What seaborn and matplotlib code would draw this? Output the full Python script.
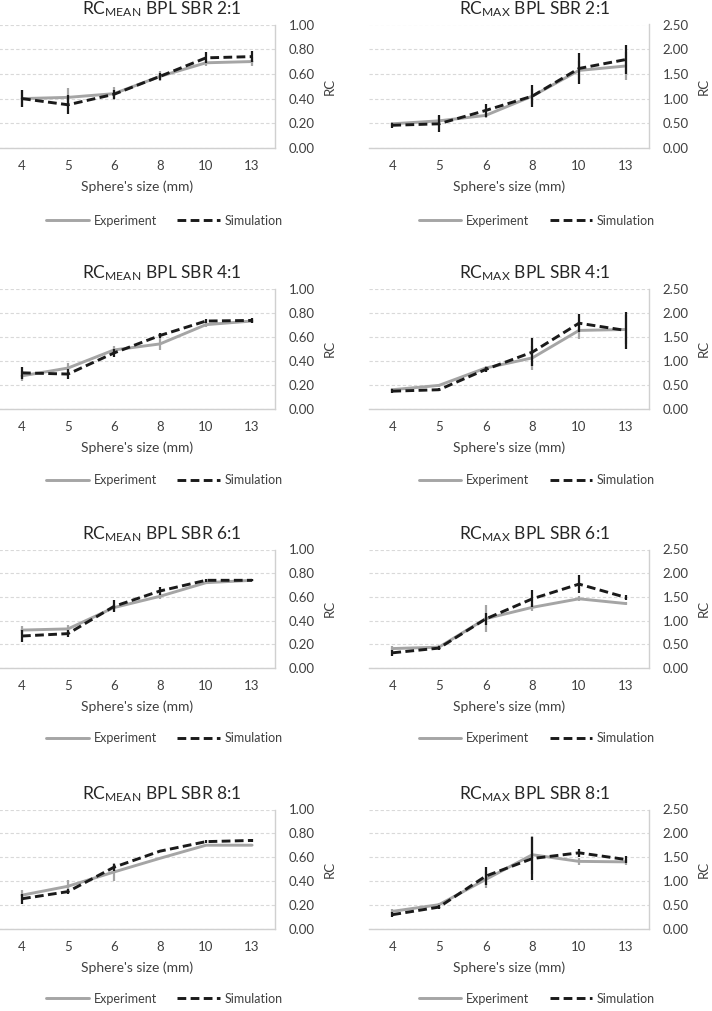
import numpy as np
import pandas as pd
import matplotlib
matplotlib.use("Agg")
import matplotlib.pyplot as plt
import seaborn as sns

sizes = ["4", "5", "6", "8", "10", "13"]

# RC mean
mean_exp_2 = [0.40, 0.41, 0.44, 0.58, 0.69, 0.70]
mean_exp_2_err = [0.07, 0.075, 0.05, 0.04, 0.03, 0.035]
mean_sim_2 = [0.40, 0.35, 0.435, 0.58, 0.73, 0.74]
mean_sim_2_err = [0.07, 0.077, 0.035, 0.03, 0.045, 0.045]

mean_exp_4 = [0.275, 0.34, 0.49, 0.54, 0.70, 0.73]
mean_exp_4_err = [0.04, 0.045, 0.03, 0.05, 0.02, 0.02]
mean_sim_4 = [0.30, 0.29, 0.465, 0.61, 0.73, 0.735]
mean_sim_4_err = [0.05, 0.04, 0.03, 0.02, 0.02, 0.02]

mean_exp_6 = [0.32, 0.33, 0.51, 0.605, 0.72, 0.74]
mean_exp_6_err = [0.035, 0.03, 0.03, 0.02, 0.015, 0.01]
mean_sim_6 = [0.27, 0.29, 0.52, 0.65, 0.74, 0.74]
mean_sim_6_err = [0.05, 0.03, 0.05, 0.03, 0.015, 0.01]

mean_exp_8 = [0.28, 0.355, 0.475, 0.59, 0.70, 0.70]
mean_exp_8_err = [0.045, 0.05, 0.075, 0.01, 0.01, 0.01]
mean_sim_8 = [0.25, 0.31, 0.515, 0.65, 0.73, 0.74]
mean_sim_8_err = [0.04, 0.02, 0.03, 0.01, 0.01, 0.01]

# RC max
max_exp_2 = [0.49, 0.55, 0.66, 1.05, 1.57, 1.66]
max_exp_2_err = [0.04, 0.10, 0.05, 0.15, 0.20, 0.28]
max_sim_2 = [0.46, 0.49, 0.76, 1.05, 1.61, 1.79]
max_sim_2_err = [0.05, 0.17, 0.13, 0.22, 0.32, 0.30]

max_exp_4 = [0.40, 0.49, 0.85, 1.06, 1.63, 1.65]
max_exp_4_err = [0.03, 0.03, 0.05, 0.25, 0.18, 0.30]
max_sim_4 = [0.37, 0.40, 0.82, 1.18, 1.78, 1.63]
max_sim_4_err = [0.04, 0.03, 0.05, 0.29, 0.19, 0.39]

max_exp_6 = [0.41, 0.44, 1.04, 1.28, 1.46, 1.36]
max_exp_6_err = [0.05, 0.05, 0.29, 0.07, 0.05, 0.03]
max_sim_6 = [0.32, 0.42, 1.035, 1.46, 1.77, 1.49]
max_sim_6_err = [0.06, 0.04, 0.13, 0.18, 0.19, 0.05]

max_exp_8 = [0.36, 0.50, 1.03, 1.55, 1.41, 1.40]
max_exp_8_err = [0.04, 0.04, 0.17, 0.40, 0.07, 0.06]
max_sim_8 = [0.29, 0.45, 1.10, 1.47, 1.59, 1.45]
max_sim_8_err = [0.05, 0.04, 0.19, 0.45, 0.08, 0.08]

ratios = ["2:1", "4:1", "6:1", "8:1"]

sns.set_style("white")
plt.rcParams['font.family'] = ['Lato', 'DejaVu Sans']
plt.rcParams['mathtext.fontset'] = 'custom'
plt.rcParams['mathtext.rm'] = 'Lato'
plt.rcParams['mathtext.it'] = 'Lato'

EXP_COLOR = "#a5a5a5"
SIM_COLOR = "#1a1a1a"
TXT = "#404040"


def draw_panel(ax, exp, exp_err, sim, sim_err, title, ymax, step):
    df = pd.DataFrame({"size": sizes * 2,
                       "rc": exp + sim,
                       "series": ["Experiment"] * 6 + ["Simulation"] * 6})
    ax.errorbar(sizes, exp, yerr=exp_err, fmt="none", ecolor=EXP_COLOR,
                elinewidth=1.6, capsize=0, zorder=2)
    sns.lineplot(data=df[df.series == "Experiment"], x="size", y="rc", ax=ax,
                 color=EXP_COLOR, linewidth=2.1, label="Experiment", zorder=3)
    ax.errorbar(sizes, sim, yerr=sim_err, fmt="none", ecolor=SIM_COLOR,
                elinewidth=1.6, capsize=0, zorder=4)
    sns.lineplot(data=df[df.series == "Simulation"], x="size", y="rc", ax=ax,
                 color=SIM_COLOR, linewidth=2.1, label="Simulation", zorder=5)
    ax.lines[-1].set_dashes([3, 1.5])

    ax.set_xlim(-0.5, len(sizes) - 0.5)
    ax.set_ylim(0, ymax)
    ax.set_yticks(np.arange(0, ymax + step / 2, step))
    ax.yaxis.set_major_formatter(matplotlib.ticker.FormatStrFormatter("%.2f"))
    ax.yaxis.tick_right()
    ax.yaxis.set_label_position("right")
    ax.grid(axis="y", color="#d9d9d9", linestyle=(0, (3, 2)), linewidth=0.8)
    ax.set_axisbelow(True)
    for s in ["top", "left"]:
        ax.spines[s].set_visible(False)
    for s in ["bottom", "right"]:
        ax.spines[s].set_color("#d0d0d0")
        ax.spines[s].set_linewidth(1.0)
    ax.tick_params(axis="both", length=0, labelsize=9.5, labelcolor=TXT)
    ax.tick_params(axis="x", pad=9)
    ax.tick_params(axis="y", pad=10)
    ax.set_xlabel("Sphere's size (mm)", fontsize=10, color=TXT, labelpad=6)
    ax.set_ylabel("RC", fontsize=9.5, color=TXT, labelpad=6)
    ax.set_title(title, fontsize=12.5, color="#262626", x=0.59, pad=7)
    ax.legend(loc="center", bbox_to_anchor=(0.6, -0.59), ncol=2, frameon=False,
              fontsize=9, handlelength=3.4, handletextpad=0.4, columnspacing=1.6,
              labelcolor=TXT)


fig = plt.figure(figsize=(7.12, 10.11), dpi=100)
W, H = 712, 1011
rows = [(24.5, 148), (288.5, 409), (549.5, 668), (809.5, 928.5)]
mean_sets = [(mean_exp_2, mean_exp_2_err, mean_sim_2, mean_sim_2_err),
             (mean_exp_4, mean_exp_4_err, mean_sim_4, mean_sim_4_err),
             (mean_exp_6, mean_exp_6_err, mean_sim_6, mean_sim_6_err),
             (mean_exp_8, mean_exp_8_err, mean_sim_8, mean_sim_8_err)]
max_sets = [(max_exp_2, max_exp_2_err, max_sim_2, max_sim_2_err),
            (max_exp_4, max_exp_4_err, max_sim_4, max_sim_4_err),
            (max_exp_6, max_exp_6_err, max_sim_6, max_sim_6_err),
            (max_exp_8, max_exp_8_err, max_sim_8, max_sim_8_err)]

for i, (top, bot) in enumerate(rows):
    h = (bot - top) / H
    y0 = 1 - bot / H
    ax1 = fig.add_axes([-1 / W, y0, 276 / W, h])
    draw_panel(ax1, *mean_sets[i], r"RC$_{\mathrm{MEAN}}$ BPL SBR " + ratios[i], 1.0, 0.2)
    ax2 = fig.add_axes([369 / W, y0, 280 / W, h])
    draw_panel(ax2, *max_sets[i], r"RC$_{\mathrm{MAX}}$ BPL SBR " + ratios[i], 2.5, 0.5)

fig.savefig("out.png", dpi=100)
